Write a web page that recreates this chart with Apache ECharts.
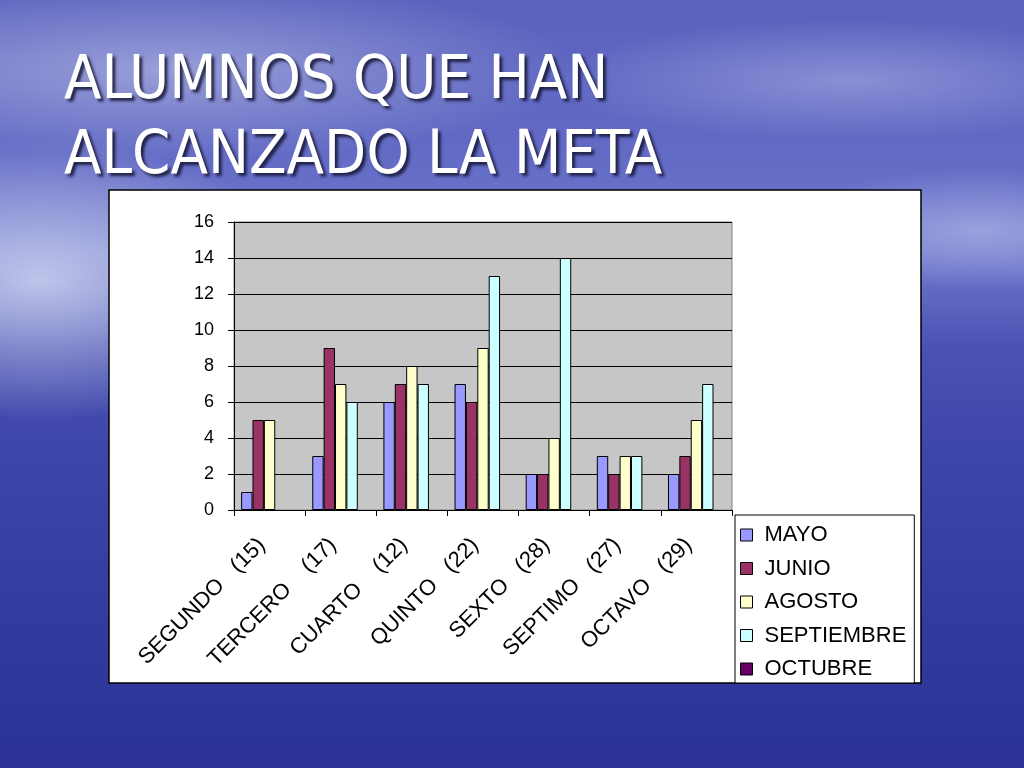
<!DOCTYPE html>
<html>
<head>
<meta charset="utf-8">
<script src="https://cdn.jsdelivr.net/npm/echarts@6/dist/echarts.min.js"></script>
<style>
html,body{margin:0;padding:0;width:1024px;height:768px;overflow:hidden;}
body{
  background:
    radial-gradient(ellipse 420px 90px at 160px 70px, rgba(200,205,235,0.55), rgba(200,205,235,0) 100%),
    radial-gradient(ellipse 300px 60px at 850px 80px, rgba(190,195,235,0.45), rgba(190,195,235,0) 100%),
    radial-gradient(ellipse 260px 140px at 40px 280px, rgba(220,225,245,0.75), rgba(220,225,245,0) 100%),
    radial-gradient(ellipse 200px 60px at 980px 230px, rgba(200,205,240,0.5), rgba(200,205,240,0) 100%),
    linear-gradient(180deg, #5a62be 0%, #6169c4 18%, #6f78cc 33%, #4a53b3 45%, #3c45a8 60%, #323c9f 80%, #2a3395 100%);
}
#chart{position:absolute;left:0;top:0;width:1024px;height:768px;}
</style>
</head>
<body>
<div id="chart"></div>
<script>
const categories = ['SEGUNDO   (15)', 'TERCERO    (17)', 'CUARTO    (12)', 'QUINTO   (22)', 'SEXTO   (28)', 'SEPTIMO   (27)', 'OCTAVO   (29)'];
const seriesNames = ['MAYO', 'JUNIO', 'AGOSTO', 'SEPTIEMBRE', 'OCTUBRE'];
const mayo       = [1, 3, 6, 7, 2, 3, 2];
const junio      = [5, 9, 7, 6, 2, 2, 3];
const agosto     = [5, 7, 8, 9, 4, 3, 5];
const septiembre = [null, 6, 7, 13, 14, 3, 7];
const octubre    = [null, null, null, null, null, null, null];
const yTicks = [0, 2, 4, 6, 8, 10, 12, 14, 16];

const colors = ['#9999FF', '#993366', '#FFFFCC', '#CCFFFF', '#660066'];
const values = [mayo, junio, agosto, septiembre, octubre];

const chart = echarts.init(document.getElementById('chart'));
const font = '"Liberation Sans", Arial, sans-serif';

chart.setOption({
  backgroundColor: 'transparent',
  animation: false,
  color: colors,
  title: {
    text: 'ALUMNOS QUE HAN\nALCANZADO LA META',
    left: 59,
    top: 40,
    textStyle: {
      color: '#ffffff',
      fontFamily: '"DejaVu Sans Condensed", "DejaVu Sans", sans-serif',
      fontWeight: 'normal',
      fontSize: 61,
      lineHeight: 75,
      textShadowColor: 'rgba(20,20,50,0.85)',
      textShadowBlur: 3,
      textShadowOffsetX: 3,
      textShadowOffsetY: 3
    }
  },
  graphic: [{
    type: 'rect',
    z: -100,
    shape: {x: 109, y: 190, width: 812, height: 493},
    style: {fill: '#ffffff', stroke: '#000000', lineWidth: 1.5}
  }],
  legend: {
    orient: 'vertical',
    left: 735,
    top: 515,
    padding: [9, 8, 3, 5],
    itemGap: 11.5,
    itemWidth: 12,
    itemHeight: 12,
    backgroundColor: '#ffffff',
    borderColor: '#000000',
    borderWidth: 1,
    icon: 'rect',
    itemStyle: {borderColor: '#000', borderWidth: 1},
    textStyle: {fontFamily: font, fontSize: 22, color: '#000', lineHeight: 22, padding: [0, 0, 0, 7]},
    data: seriesNames
  },
  grid: {
    left: 234, top: 222, width: 498, height: 288,
    show: true,
    backgroundColor: '#C6C6C6',
    borderColor: '#808080',
    borderWidth: 1
  },
  xAxis: {
    type: 'category',
    data: categories,
    axisLine: {lineStyle: {color: '#000', width: 1}},
    axisTick: {show: true, length: 6, lineStyle: {color: '#000'}},
    axisLabel: {
      rotate: 45,
      interval: 0,
      fontFamily: font,
      fontSize: 22,
      color: '#000',
      margin: 24,
      padding: [0, 11, 0, 0]
    }
  },
  yAxis: {
    type: 'value',
    min: 0,
    max: 16,
    interval: 2,
    axisLine: {show: true, lineStyle: {color: '#000', width: 1}},
    axisTick: {show: true, length: 6, lineStyle: {color: '#000'}},
    splitLine: {lineStyle: {color: '#000', width: 1}},
    axisLabel: {
      fontFamily: font,
      fontSize: 18,
      color: '#000',
      margin: 20,
      formatter: function (v) { return yTicks.indexOf(v) >= 0 ? String(v) : ''; }
    }
  },
  series: seriesNames.map(function (name, i) {
    return {
      name: name,
      type: 'bar',
      data: values[i],
      barGap: '0%',
      barCategoryGap: '20%',
      itemStyle: {color: colors[i], borderColor: '#000', borderWidth: 1}
    };
  })
});
</script>
</body>
</html>
